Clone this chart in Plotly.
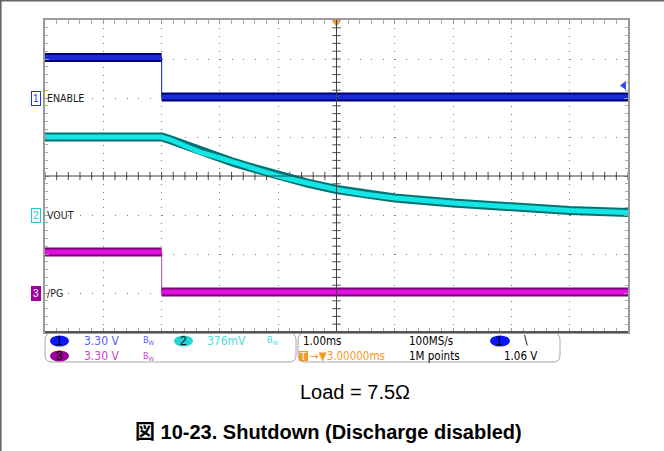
import numpy as np
import plotly.graph_objects as go

# ---------------- data (read from the scope shot) ----------------
T_MIN, T_MAX = -2.0, 8.0          # ms, relative to trigger (1.00 ms/div, 10 div)
CENTER_T = 3.0                    # trigger delay 3.00000 ms -> centre of screen

CH1_SCALE, CH1_POS = 3.30, 2      # V/div, ground position (div from centre)
CH2_SCALE, CH2_POS = 0.376, -1
CH3_SCALE, CH3_POS = 3.30, -3

ENABLE_T = [-2.0, 0.0, 0.0, 8.0]
ENABLE_V = [3.43, 3.43, 0.08, 0.08]

VOUT_T = [-2.0, 0.0, 0.15, 0.3, 0.5, 0.66, 1.0, 1.25, 1.5, 2.0, 2.5, 3.0, 3.5, 4.0,
          5.0, 6.0, 7.0, 8.0]
VOUT_V = [0.752, 0.752, 0.725, 0.694, 0.645, 0.607, 0.55, 0.505, 0.463, 0.376, 0.308,
          0.246, 0.200, 0.164, 0.116, 0.077, 0.043, 0.024]

PG_T = [-2.0, 0.0, 0.0, 8.0]
PG_V = [3.47, 3.47, 0.08, 0.08]

TRIG_LEVEL = 1.06

CH_LABELS = ["ENABLE", "VOUT", "/PG"]

# ---------------- layout geometry ----------------
W, H = 664, 451
PL, PR, PT, PB = 45, 628, 20, 332


def px_x(px):
    return (px - PL) / (PR - PL)


def px_y(py):
    return (PB - py) / (PB - PT)


def t_of_px(px):
    return T_MIN + (px - PL) / (PR - PL) * (T_MAX - T_MIN)


def ch_range(scale, pos):
    return [(-4 - pos) * scale, (4 - pos) * scale]


def split_steps(t, v):
    flat_t, flat_v, edge_t, edge_v = [], [], [], []
    for i in range(len(t) - 1):
        if t[i] == t[i + 1]:
            edge_t += [t[i], t[i + 1], None]
            edge_v += [v[i], v[i + 1], None]
        else:
            flat_t += [t[i], t[i + 1], None]
            flat_v += [v[i], v[i + 1], None]
    return flat_t, flat_v, edge_t, edge_v


fig = go.Figure()

SCOPE_FONT = "Liberation Sans Narrow, DejaVu Sans Condensed, Arial Narrow, Liberation Sans, sans-serif"

# crosshair ticks (grid furniture)
xt = np.round(np.arange(T_MIN, T_MAX + 0.001, 0.2), 3)
fig.add_trace(go.Scatter(x=xt, y=np.zeros_like(xt), mode="markers", yaxis="y",
                         marker=dict(symbol="line-ns", size=6,
                                     line=dict(width=1, color="#505050")),
                         hoverinfo="skip", showlegend=False))
yt = np.round(np.arange(-4, 4.001, 0.2), 3)
fig.add_trace(go.Scatter(x=np.full_like(yt, CENTER_T), y=yt, mode="markers", yaxis="y",
                         marker=dict(symbol="line-ew", size=6,
                                     line=dict(width=1, color="#505050")),
                         hoverinfo="skip", showlegend=False))


# channel traces
def add_step_channel(t, v, axis, outer, inner, edge):
    ft, fv, et, ev = split_steps(t, v)
    fig.add_trace(go.Scatter(x=et, y=ev, yaxis=axis, mode="lines",
                             line=dict(color=edge, width=1.2),
                             hoverinfo="skip", showlegend=False))
    fig.add_trace(go.Scatter(x=ft, y=fv, yaxis=axis, mode="lines",
                             line=dict(color=outer, width=9),
                             hoverinfo="skip", showlegend=False))
    fig.add_trace(go.Scatter(x=ft, y=fv, yaxis=axis, mode="lines",
                             line=dict(color=inner, width=5),
                             hoverinfo="skip", showlegend=False))


add_step_channel(ENABLE_T, ENABLE_V, "y2", "#00007a", "#1a2ad8", "#3040c0")
add_step_channel(PG_T, PG_V, "y4", "#7a007a", "#e010e0", "#b070b0")

fig.add_trace(go.Scatter(x=VOUT_T, y=VOUT_V, yaxis="y3", mode="lines",
                         line=dict(color="#007272", width=9),
                         hoverinfo="skip", showlegend=False))
fig.add_trace(go.Scatter(x=VOUT_T, y=VOUT_V, yaxis="y3", mode="lines",
                         line=dict(color="#14e6e6", width=5),
                         hoverinfo="skip", showlegend=False))

# trigger level arrow (right edge, ch1) and time marker (top)
fig.add_trace(go.Scatter(x=[t_of_px(624)], y=[TRIG_LEVEL], yaxis="y2", mode="markers",
                         marker=dict(symbol="triangle-left", size=8, color="#2a4cff"),
                         cliponaxis=False, hoverinfo="skip", showlegend=False))
fig.add_trace(go.Scatter(x=[CENTER_T], y=[3.93], yaxis="y", mode="markers",
                         marker=dict(symbol="triangle-down", size=8, color="#f39a1e"),
                         cliponaxis=False, hoverinfo="skip", showlegend=False))

# pointer tips of the channel ground markers
for axis, col, fill in [("y2", "#2030ff", "white"), ("y3", "#1fc8d8", "white"),
                        ("y4", "#a000a0", "#a000a0")]:
    fig.add_trace(go.Scatter(x=[t_of_px(42.5)], y=[0], yaxis=axis, mode="markers",
                             marker=dict(symbol="triangle-right", size=7, color=fill,
                                         line=dict(color=col, width=1)),
                             cliponaxis=False, hoverinfo="skip", showlegend=False))

grid_common = dict(showgrid=True, gridcolor="#7a7a7a", gridwidth=1, zeroline=False,
                   showticklabels=False, ticks="inside", ticklen=4, tickcolor="#9a9a9a",
                   showline=True, linecolor="#9a9a9a", linewidth=1.5, mirror="allticks",
                   fixedrange=True)

fig.update_layout(
    width=W, height=H,
    margin=dict(l=PL, r=W - PR, t=PT, b=H - PB, pad=0),
    paper_bgcolor="white", plot_bgcolor="white",
    showlegend=False,
    xaxis=dict(range=[T_MIN, T_MAX], dtick=1, tick0=T_MIN, griddash="1px,6.8px",
               minor=dict(dtick=0.2, tick0=T_MIN, ticks="inside", ticklen=3,
                          tickcolor="#a8a8a8", showgrid=False),
               **grid_common),
    yaxis=dict(range=[-4, 4], dtick=1, tick0=-4, griddash="1px,10.66px",
               minor=dict(dtick=0.2, tick0=-4, ticks="inside", ticklen=3,
                          tickcolor="#a8a8a8", showgrid=False),
               **grid_common),
    yaxis2=dict(range=ch_range(CH1_SCALE, CH1_POS), overlaying="y", visible=False, fixedrange=True),
    yaxis3=dict(range=ch_range(CH2_SCALE, CH2_POS), overlaying="y", visible=False, fixedrange=True),
    yaxis4=dict(range=ch_range(CH3_SCALE, CH3_POS), overlaying="y", visible=False, fixedrange=True),
)

shapes = []
# crosshair
shapes.append(dict(type="line", xref="x", yref="paper", x0=CENTER_T, x1=CENTER_T, y0=0, y1=1,
                   line=dict(color="#404040", width=1)))
shapes.append(dict(type="line", xref="paper", yref="y", x0=0, x1=1, y0=0, y1=0,
                   line=dict(color="#404040", width=1)))
# darker bottom frame
shapes.append(dict(type="line", xref="paper", yref="paper", x0=0, x1=1, y0=0, y1=0,
                   line=dict(color="#555555", width=2)))
# page border (top and left)
shapes.append(dict(type="line", xref="paper", yref="paper", x0=px_x(0), x1=px_x(W),
                   y0=px_y(0.8), y1=px_y(0.8), line=dict(color="#666666", width=1.6)))
shapes.append(dict(type="line", xref="paper", yref="paper", x0=px_x(0.8), x1=px_x(0.8),
                   y0=px_y(0), y1=px_y(H), line=dict(color="#666666", width=1.6)))


def rrect(x0, y0, x1, y1, r):
    X = lambda v: px_x(v)
    Y = lambda v: px_y(v)
    return (f"M {X(x0 + r)},{Y(y0)} L {X(x1 - r)},{Y(y0)} Q {X(x1)},{Y(y0)} {X(x1)},{Y(y0 + r)} "
            f"L {X(x1)},{Y(y1 - r)} Q {X(x1)},{Y(y1)} {X(x1 - r)},{Y(y1)} "
            f"L {X(x0 + r)},{Y(y1)} Q {X(x0)},{Y(y1)} {X(x0)},{Y(y1 - r)} "
            f"L {X(x0)},{Y(y0 + r)} Q {X(x0)},{Y(y0)} {X(x0 + r)},{Y(y0)} Z")


shapes.append(dict(type="path", xref="paper", yref="paper", path=rrect(45, 333, 296, 362, 7),
                   line=dict(color="#a8a8a8", width=1), layer="below"))
shapes.append(dict(type="path", xref="paper", yref="paper", path=rrect(298, 333, 560, 362, 7),
                   line=dict(color="#a8a8a8", width=1), layer="below"))


# channel badges in the info panel
def ellipse(x0, x1, cy, color):
    shapes.append(dict(type="circle", xref="paper", yref="paper", layer="below",
                       x0=px_x(x0), x1=px_x(x1), y0=px_y(cy + 5.5), y1=px_y(cy - 5.5),
                       fillcolor=color, line=dict(width=0)))


ROW1, ROW2 = 341, 356
ellipse(50, 69, ROW1, "#0a14ff")
ellipse(50, 69, ROW2, "#980098")
ellipse(174, 193, ROW1, "#22d4d4")
ellipse(490, 510, ROW1, "#0a14ff")
shapes.append(dict(type="rect", xref="paper", yref="paper", x0=px_x(299), x1=px_x(308),
                   y0=px_y(361), y1=px_y(351), fillcolor="#f39a1e", line=dict(width=0),
                   layer="below"))

fig.update_layout(shapes=shapes)

ann = []


def txt(x, y, s, color="black", size=11, anchor="left", family=SCOPE_FONT, **kw):
    ann.append(dict(x=px_x(x), y=px_y(y), xref="paper", yref="paper", text=s,
                    showarrow=False, xanchor=anchor, yanchor="middle",
                    font=dict(family=family, size=size, color=color), **kw))


# info panel texts
txt(59.5, ROW1, "1", size=12, anchor="center", family="Liberation Sans, sans-serif")
txt(59.5, ROW2, "3", size=12, anchor="center", family="Liberation Sans, sans-serif")
txt(183.5, ROW1, "2", size=12, anchor="center", family="Liberation Sans, sans-serif")
txt(500, ROW1, "1", size=12, anchor="center", family="Liberation Sans, sans-serif")
txt(303.5, ROW2, "T", color="white", size=11, anchor="center", family="Liberation Sans, sans-serif")
txt(82, ROW1, "3.30 V", color="#5a5aff", size=12)
txt(82, ROW2, "3.30 V", color="#cc44cc", size=12)
txt(205, ROW1, "376mV", color="#48dede", size=12)
txt(141, ROW1, "B<sub>W</sub>", color="#5a5aff", size=9)
txt(141, ROW2, "B<sub>W</sub>", color="#cc44cc", size=9)
txt(265, ROW1, "B<sub>W</sub>", color="#48dede", size=9)
txt(301, ROW1, "1.00ms", size=11.5)
txt(407, ROW1, "100MS/s", size=11.5)
txt(407, ROW2, "1M points", size=11.5)
txt(502, ROW2, "1.06 V", size=11.5)
txt(522, ROW1 - 1, "\\", size=12)
txt(308, ROW2, "→▼3.00000ms", color="#f39a1e", size=11.5)

# channel ground markers + labels
for lab, yref, bg, fg, border in [
    ("1", "y2", "white", "#2030ff", "#2030ff"),
    ("2", "y3", "white", "#1fc8d8", "#1fc8d8"),
    ("3", "y4", "#a000a0", "white", "#a000a0"),
]:
    ann.append(dict(x=px_x(35.5), y=0, xref="paper", yref=yref, text=lab, showarrow=False,
                    xanchor="center", yanchor="middle", bgcolor=bg, bordercolor=border,
                    borderwidth=1, borderpad=1,
                    font=dict(family="Liberation Sans, sans-serif", size=10, color=fg)))
for lab, yref in zip(CH_LABELS, ["y2", "y3", "y4"]):
    ann.append(dict(x=px_x(44.5), y=0, xref="paper", yref=yref, text=lab, showarrow=False,
                    xanchor="left", yanchor="middle",
                    font=dict(family=SCOPE_FONT, size=10.5, color="#222222")))

# captions
txt(355, 392, "Load = 7.5Ω", size=20, anchor="center", family="Liberation Sans, Arial, sans-serif")
txt(328, 432, "<b>図 10-23. Shutdown (Discharge disabled)</b>", size=20, anchor="center",
    family="Liberation Sans, Arial, Noto Sans CJK JP, sans-serif")

fig.update_layout(annotations=ann)

fig.write_html("out.html", config={"displayModeBar": False},
               post_script="document.body.style.margin='0px';document.body.style.overflow='hidden';")
